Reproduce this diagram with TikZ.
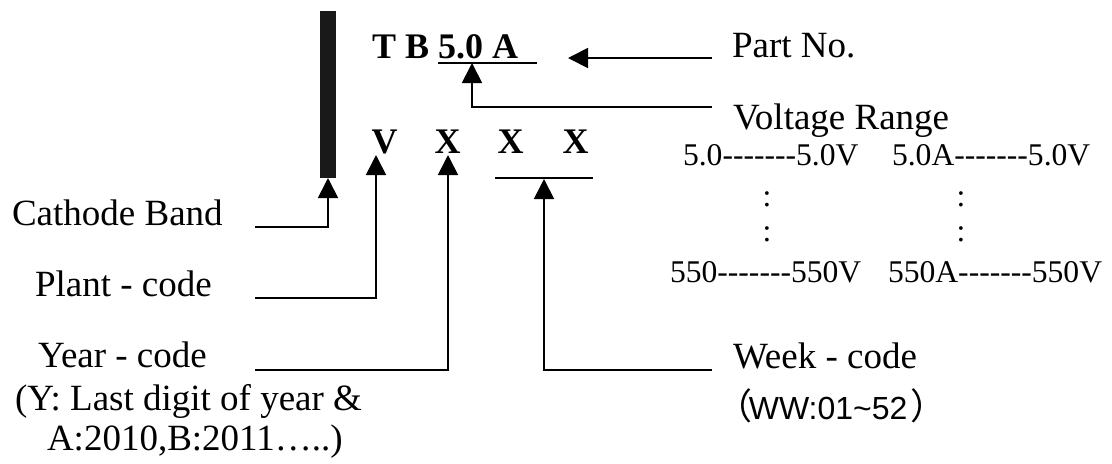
\documentclass[tikz,border=0pt]{standalone}
\usepackage{fontspec}
\setmainfont{Liberation Serif}[Ligatures=TeXOff]
\newfontfamily\lsans{Liberation Sans}
\newfontfamily\cjk{Noto Sans CJK SC}
\usetikzlibrary{arrows.meta}
\begin{document}
\begin{tikzpicture}[x=0.5pt,y=-0.5pt,
  lbl/.style={inner sep=0pt,outer sep=0pt,anchor=base west,font=\fontsize{18.5}{22}\selectfont},
  sml/.style={inner sep=0pt,outer sep=0pt,anchor=base west,font=\fontsize{15.8}{19}\selectfont},
  code/.style={inner sep=0pt,outer sep=0pt,anchor=base,font=\fontsize{18}{21}\selectfont\bfseries},
  conn/.style={line width=0.9pt,-{Triangle[width=10pt,length=10pt]}},
  uline/.style={line width=1.2pt}]
\useasboundingbox (0,0) rectangle (1112,463);
% cathode band
\node[fill=black!90,inner sep=0pt,outer sep=0pt,minimum width=8pt,minimum height=83.5pt,anchor=north west] (band) at (320,11) {};
% part number
\node[code,anchor=base west] (pnum) at (372,58) {T B 5.0 A};
\coordinate (ulA) at (438,63); \coordinate (ulB) at (537,63);
\draw[uline] (ulA) -- (ulB);
% code letters
\node[code] (cV) at (384.5,153) {V};
\node[code] (cX1) at (447.5,153) {X};
\node[code] (cX2) at (510.5,153) {X};
\node[code] (cX3) at (575.5,153) {X};
\coordinate (ulC) at (495,178); \coordinate (ulD) at (593,178);
\draw[uline] (ulC) -- (ulD);
% right labels
\node[lbl] (partno) at (732,57) {Part No.};
\node[lbl] (vrange) at (733,129) {Voltage Range};
\node[sml] (r1a) at (683,165) {5.0-------5.0V};
\node[sml] (r1b) at (892,165) {5.0A-------5.0V};
\node[sml,anchor=base] (d1) at (767,206) {:};
\node[sml,anchor=base] (d2) at (767,241) {:};
\node[sml,anchor=base] (d3) at (961,206) {:};
\node[sml,anchor=base] (d4) at (961,241) {:};
\node[sml] (r2a) at (670,282) {550-------550V};
\node[sml] (r2b) at (888,282) {550A-------550V};
\node[lbl] (week) at (733,368) {Week - code};
\node[inner sep=0pt,outer sep=0pt,anchor=base west,font=\fontsize{16}{18}\selectfont] (wwrange) at (716,419) {{\cjk\fontsize{18}{18}\selectfont （}\kern-0.1em{\lsans WW:01\textasciitilde52}\kern0.1em{\cjk\fontsize{18}{18}\selectfont ）}};
% left labels
\node[lbl] (cathode) at (12,225) {Cathode Band};
\node[lbl] (plant) at (35,296) {Plant - code};
\node[lbl] (year) at (38,367) {Year - code};
\node[lbl] (yinfo1) at (15,410) {(Y: Last digit of year \&};
\node[lbl] (yinfo2) at (47,450) {A:2010,B:2011…..)};
% connector anchors
\coordinate (pnS) at (712,58);  \coordinate (pnT) at (568,58);
\coordinate (vrS) at (712,107); \coordinate (vrT) at (472,63);
\coordinate (cbS) at (255,227); \coordinate (cbT) at (328,178);
\coordinate (plS) at (255,298); \coordinate (plT) at (376,155);
\coordinate (yrS) at (255,370); \coordinate (yrT) at (448,155);
\coordinate (wkS) at (712,370); \coordinate (wkT) at (544,179);
\draw[conn] (pnS) -- (pnT);
\draw[conn] (vrS) -| (vrT);
\draw[conn] (cbS) -| (cbT);
\draw[conn] (plS) -| (plT);
\draw[conn] (yrS) -| (yrT);
\draw[conn] (wkS) -| (wkT);
\end{tikzpicture}
\end{document}
